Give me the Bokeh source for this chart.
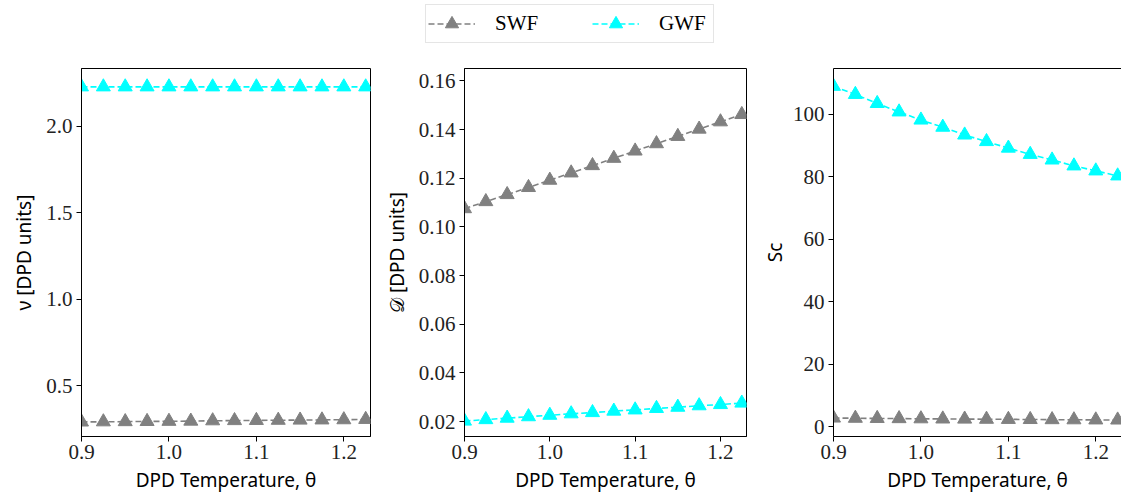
from bokeh.plotting import figure
from bokeh.layouts import row, column
from bokeh.models import Range1d, FixedTicker, NumeralTickFormatter, Legend, LegendItem, LinearAxis
from bokeh.embed import file_html
from bokeh.resources import INLINE

# ---- data ----
theta = [0.9, 0.925, 0.95, 0.975, 1.0, 1.025, 1.05, 1.075, 1.1, 1.125, 1.15, 1.175, 1.2, 1.225]
nu_swf = [0.292, 0.293, 0.294, 0.295, 0.296, 0.297, 0.299, 0.300, 0.301, 0.302, 0.303, 0.304, 0.305, 0.307]
nu_gwf = [2.229, 2.229, 2.229, 2.229, 2.229, 2.229, 2.229, 2.229, 2.229, 2.229, 2.229, 2.229, 2.229, 2.229]
d_swf = [0.1075, 0.1104, 0.1133, 0.1162, 0.1192, 0.1222, 0.1252, 0.1282, 0.1312, 0.1342, 0.1372, 0.1402, 0.1432, 0.1462]
d_gwf = [0.0202, 0.0208, 0.0214, 0.0220, 0.0226, 0.0232, 0.0237, 0.0243, 0.0248, 0.0254, 0.0259, 0.0265, 0.0270, 0.0276]
sc_swf = [2.73, 2.66, 2.60, 2.54, 2.49, 2.43, 2.39, 2.34, 2.30, 2.26, 2.21, 2.17, 2.13, 2.10]
sc_gwf = [109.0, 106.4, 103.5, 100.8, 98.2, 95.9, 93.4, 91.3, 89.2, 87.2, 85.4, 83.5, 81.9, 80.3]

series_names = ["SWF", "GWF"]
series_colors = ["#808080", "#00ffff"]

x_ticks = [0.9, 1.0, 1.1, 1.2]
nu_ticks = [0.5, 1.0, 1.5, 2.0]
d_ticks = [0.02, 0.04, 0.06, 0.08, 0.10, 0.12, 0.14, 0.16]
sc_ticks = [0, 20, 40, 60, 80, 100]

x_label = "DPD Temperature, θ"
y_labels = ["ν [DPD units]", "𝒟 [DPD units]", "Sc"]

TICK_FONT = "Liberation Serif"
LABEL_FONT = "Noto Sans"
DASH = "6 3"
MSIZE = 14


def style(p, xt, yt, xfmt, yfmt, ylabel, ylab_standoff):
    p.xaxis.ticker = FixedTicker(ticks=xt)
    p.yaxis.ticker = FixedTicker(ticks=yt)
    p.xaxis.formatter = NumeralTickFormatter(format=xfmt)
    p.yaxis.formatter = NumeralTickFormatter(format=yfmt)
    p.xgrid.visible = False
    p.ygrid.visible = False
    for ax in (p.xaxis[0], p.yaxis[0]):
        ax.axis_line_color = "black"
        ax.axis_line_width = 1
        ax.major_tick_line_color = "black"
        ax.major_tick_out = 5
        ax.major_tick_in = 0
        ax.minor_tick_out = 0
        ax.minor_tick_in = 0
        ax.major_label_text_font = TICK_FONT
        ax.major_label_text_font_size = "21px"
        ax.major_label_text_color = "#222222"
        ax.axis_label_text_font = LABEL_FONT
        ax.axis_label_text_font_size = "19px"
        ax.axis_label_text_font_style = "normal"
        ax.axis_label_text_color = "black"
    p.xaxis.axis_label = x_label
    p.xaxis.major_label_standoff = 3
    p.xaxis.axis_label_standoff = 5
    p.yaxis.axis_label = ylabel
    p.yaxis.major_label_standoff = 4
    p.yaxis.axis_label_standoff = ylab_standoff
    p.outline_line_color = "black"
    p.outline_line_width = 1
    p.background_fill_color = "white"
    p.border_fill_color = "white"


def add_series(p, ys):
    for name, col, y in zip(series_names, series_colors, ys):
        p.line(theta, y, line_color=col, line_width=1.6, line_dash=DASH)
        p.scatter(theta, y, marker="triangle", size=MSIZE, fill_color=col, line_color=col)


H = 445
BT, BB = 18, 57
p1 = figure(width=380, height=H, x_range=Range1d(0.9, 1.2305), y_range=Range1d(0.208, 2.335),
            output_backend="svg", toolbar_location=None,
            min_border_left=81, min_border_right=10, min_border_top=BT, min_border_bottom=BB)
add_series(p1, [nu_swf, nu_gwf])
style(p1, x_ticks, nu_ticks, "0.0", "0.0", y_labels[0], 6)

p2 = figure(width=376, height=H, x_range=Range1d(0.9, 1.2305), y_range=Range1d(0.01386, 0.1651),
            output_backend="svg", toolbar_location=None,
            min_border_left=77, min_border_right=10, min_border_top=BT, min_border_bottom=BB)
add_series(p2, [d_swf, d_gwf])
style(p2, x_ticks, d_ticks, "0.0", "0.00", y_labels[1], 6)

p3 = figure(width=365, height=H, x_range=Range1d(0.9, 1.2294), y_range=Range1d(-3.19, 114.7),
            output_backend="svg", toolbar_location=None,
            min_border_left=77, min_border_right=0, min_border_top=BT, min_border_bottom=BB)
add_series(p3, [sc_swf, sc_gwf])
style(p3, x_ticks, sc_ticks, "0.0", "0", y_labels[2], 2)
p3.outline_line_color = None
top_ax = LinearAxis(axis_line_color="black", major_tick_out=0, major_tick_in=0,
                    minor_tick_out=0, minor_tick_in=0, major_label_text_font_size="0px",
                    major_label_standoff=0, ticker=FixedTicker(ticks=[]))
p3.add_layout(top_ax, "above")

# ---- legend strip (proxy renderers use the real data, kept outside the visible range) ----
lf = figure(width=1121, height=50, x_range=Range1d(0, 0.5), y_range=Range1d(0, 0.1),
            output_backend="svg", toolbar_location=None,
            x_axis_location=None, y_axis_location=None,
            min_border_left=0, min_border_right=0, min_border_top=0, min_border_bottom=0)
lf.outline_line_color = None
lf.xgrid.visible = False
lf.ygrid.visible = False
items = []
for name, col, y in zip(series_names, series_colors, [nu_swf, nu_gwf]):
    lr = lf.line(theta, y, line_color=col, line_width=1.6, line_dash=DASH)
    sr = lf.scatter(theta, y, marker="triangle", size=MSIZE, fill_color=col, line_color=col)
    items.append(LegendItem(label=name, renderers=[lr, sr]))
leg = Legend(items=items, orientation="horizontal", location=(425, 7), margin=0,
             padding=2, spacing=45, glyph_width=47, glyph_height=33, label_standoff=20,
             label_width=52,
             label_text_font=TICK_FONT, label_text_font_size="21px", label_text_color="black",
             border_line_color="#cccccc", border_line_width=1.5, background_fill_color="white",
             background_fill_alpha=1.0)
lf.add_layout(leg, "center")

layout = column(lf, row(p1, p2, p3))
open("out.html", "w").write(file_html(layout, INLINE))
